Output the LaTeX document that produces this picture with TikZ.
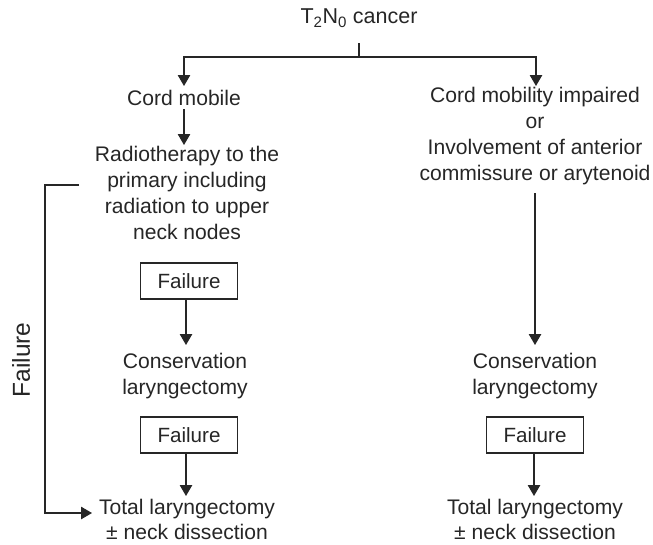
\documentclass[tikz,border=0pt]{standalone}
\usepackage{fontspec}
\setmainfont{Liberation Sans}
\usetikzlibrary{arrows.meta}
\begin{document}
\begin{tikzpicture}[x=1pt,y=-1pt,
  every node/.style={font=\fontsize{21.1}{25.8}\selectfont, align=center, inner sep=1pt, text=black!85},
  line/.style={line width=1.1pt, draw=black!85},
  arr/.style={line, -{Triangle[width=12.5pt,length=11pt]}},
  failbox/.style={draw=black!85, line width=1.1pt, minimum width=97pt, minimum height=36pt, inner sep=0pt, font=\fontsize{20.6}{24}\selectfont}]
\useasboundingbox (0,0) rectangle (653,544);
% nodes
\node[font=\fontsize{21.5}{25}\selectfont] (top) at (359,18) {T\textsubscript{2}N\textsubscript{0} cancer};
\node (cm) at (184,98) {Cord mobile};
\node (rt) at (187,193) {Radiotherapy to the\\primary including\\radiation to upper\\neck nodes};
\node[failbox] (f1) at (189,281) {Failure};
\node (cl1) at (185,376) {Conservation\\laryngectomy};
\node[failbox] (f2) at (189,435) {Failure};
\node[inner sep=0pt, font=\fontsize{21.1}{25}\selectfont] (tl1) at (187,519) {Total laryngectomy\\\textpm{} neck dissection};

\node (ci) at (535,136) {Cord mobility impaired\\or\\Involvement of anterior\\commissure or arytenoid};
\node (cl2) at (535,376) {Conservation\\laryngectomy};
\node[failbox] (f3) at (535,435) {Failure};
\node[inner sep=0pt, font=\fontsize{21.1}{25}\selectfont] (tl2) at (535,519) {Total laryngectomy\\\textpm{} neck dissection};

\node[rotate=90, font=\fontsize{24.5}{28}\selectfont] (fl) at (21,360) {Failure};

% connectors
\coordinate (split) at (359,57);
\coordinate (fbstart) at (79,185);
\coordinate (fbcorner) at (45,185);
\draw[line] (359,43) -- (split);
\draw[arr] (split) -| (184,86);
\draw[arr] (split) -| (536,86);
\draw[arr] (184,109) -- (184,145);
\draw[arr] (f1.south -| 186,0) -- (186,345);
\draw[arr] (f2.south -| 186,0) -- (186,496);
\draw[arr] (535,193) -- (535,345);
\draw[arr] (f3.south -| 534,0) -- (534,496);
\draw[arr] (fbstart) -- (fbcorner) -- (45,513) -- (92,513);
\end{tikzpicture}
\end{document}
